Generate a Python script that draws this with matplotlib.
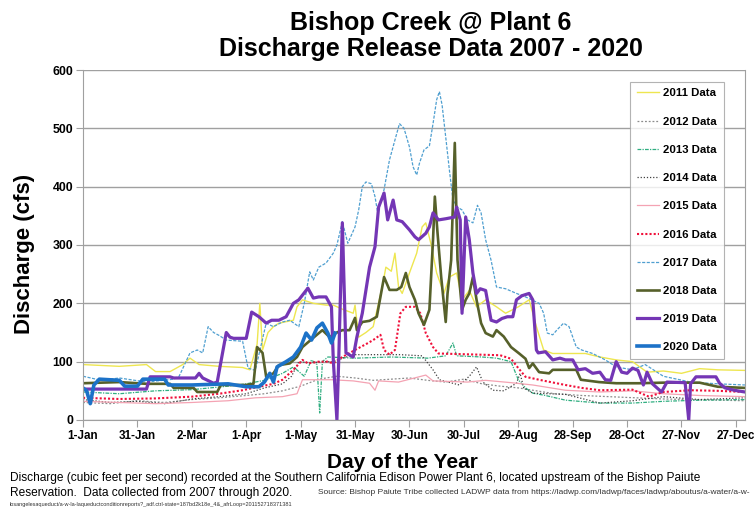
import matplotlib
matplotlib.use("Agg")
import matplotlib.pyplot as plt
import numpy as np

plt.rcParams['font.family'] = ['Liberation Sans', 'DejaVu Sans']

# x axis: day of year, ticks every 30 days
tick_days = list(range(0, 361, 30))
tick_labels = ['1-Jan', '31-Jan', '2-Mar', '1-Apr', '1-May', '31-May', '30-Jun',
               '30-Jul', '29-Aug', '28-Sep', '28-Oct', '27-Nov', '27-Dec']

# (day, cfs)
y2011 = [(0,95),(20,92),(35,95),(40,83),(48,83),(55,95),(59,106),(64,95),(75,92),(88,90),(92,86),
         (96,130),(97.5,200),(99,120),(102,150),(105,160),(108,166),(116,171),(118,194),(121,206),
         (127,200),(134,197),(138,197),(143,190),(149,183),(150,197),(152,142),(156,150),(160,160),
         (165,228),(167,262),(170,255),(172,286),(174,228),(176,217),(180,252),(184,286),(187,331),
         (189,338),(192,300),(195,252),(199,217),(202,245),(206,252),(209,206),(213,222),(217,194),
         (222,206),(228,194),(233,183),(240,194),(246,206),(250,160),(254,120),(259,114),(266,114),
         (277,114),(285,108),(294,103),(303,100),(311,82),(320,84),(330,80),(340,88),(350,86),(365,85)]
y2012 = [(0,30),(15,28),(30,33),(45,30),(60,35),(75,38),(90,42),(100,45),(110,50),(120,58),
         (130,70),(140,75),(150,72),(160,68),(170,70),(180,72),(190,68),(200,65),(210,70),(220,62),
         (230,58),(240,55),(250,50),(260,45),(275,42),(290,40),(305,38),(320,36),(335,35),(350,34),(365,33)]
y2013 = [(0,48),(20,45),(40,50),(60,52),(80,58),(90,62),(100,68),(110,80),(116,91),(122,75),
         (126,103),(129,95),(130.5,12),(132,100),(135,108),(150,106),(170,108),(190,106),(200,110),
         (204,132),(206,110),(220,108),(228,106),(236,100),(240,69),(244,55),(248,46),(255,42),
         (266,34),(285,29),(303,29),(320,32),(340,34),(365,35)]
y2014 = [(0,35),(15,30),(30,32),(45,28),(60,36),(75,40),(90,45),(100,55),(110,62),(115,75),
         (119,100),(125,98),(133,100),(138,100),(149,112),(160,112),(175,112),(187,110),(190,98),
         (193,86),(196.5,69),(207.5,60),(213,75),(217,91),(220.5,65),(226,51),(232,50),(239,63),
         (241,80),(243,55),(248,46),(266,44),(285,29),(303,33),(320,40),(340,35),(365,38)]
y2015 = [(0,32),(20,30),(40,28),(60,30),(80,33),(95,38),(110,40),(118,45),(121,69),(130,69),
         (138,69),(143,68),(149,67),(158,63),(161,51),(163,67),(174,65),(189,77),(193,67),(212,65),
         (222,68),(236,64),(248,60),(266,51),(285,48),(303,50),(320,45),(340,42),(365,40)]
y2016 = [(0,38),(20,36),(40,37),(60,40),(75,45),(88,51),(97,57),(105,62),(110,69),(116,86),
         (121,103),(124,97),(130,100),(135,100),(138,97),(143,108),(150,120),(156,130),(160,137),
         (164,146),(166,120),(169,112),(172,120),(175,183),(178,194),(183,194),(186,183),(189,149),
         (193,125),(196,114),(230,111),(236,105),(240,89),(244,74),(253,68),(266,60),(275,55),
         (285,51),(303,52),(312,40),(320,48),(335,51),(350,50),(365,48)]
y2017 = [(0,75),(10,68),(20,72),(35,65),(50,70),(53,75),(59,115),(63,120),(66,115),(69,160),
         (72,150),(75,145),(79,137),(88,135),(91,89),(95,85),(101,166),(105,160),(110,168),(114,171),
         (119,160),(122,200),(125,254),(127,240),(130,262),(134,269),(138,286),(140,300),(143,340),
         (146,303),(150,331),(152,360),(154,400),(156,408),(159,405),(161,383),(162.5,355),(166,395),
         (169,446),(172,480),(174.5,508),(177,500),(180,468),(182,434),(184,420),(185.5,440),
         (188,463),(191,470),(193,508),(195,549),(196.5,563),(198,540),(200,485),(202,429),(204,377),
         (206.5,365),(209,360),(212,343),(215,338),(217.5,368),(219.5,355),(222,309),(225,274),
         (228,228),(233,225),(239,217),(244,211),(251.5,200),(254,183),(256,149),(259,146),
         (261.5,155),(265,166),(268,160),(272,125),(275,120),(281,114),(288,103),(294,91),(303,86),
         (310,95),(320,75),(335,65),(350,62),(365,60)]
y2018 = [(0,63),(20,65),(35,62),(48,62),(50,55),(61,55),(63,48),(74,48),(76,60),(90,60),(94,62),
         (96,125),(99,115),(101,74),(105,80),(108,94),(114,97),(118,108),(121,125),(127,141),
         (132,154),(136,142),(140,150),(143,154),(147,154),(150,175),(151,154),(154,168),(158,170),
         (162,177),(166,245),(169,223),(173,223),(175.5,228),(178,252),(180,228),(183,206),(185,183),
         (188,163),(191,189),(193,309),(194,383),(195.5,320),(197.5,245),(200,168),(201,217),
         (203,274),(205,475),(206.5,274),(209,189),(211,206),(213,217),(215,245),(217,206),
         (219.5,166),(222,149),(226,143),(228,154),(232,143),(236,125),(240.5,114),(244,105),
         (246,89),(248,97),(251.5,82),(257,80),(259,86),(272,86),(274.5,69),(284.5,65),(294,63),
         (306.5,63),(320,64),(340,64),(350,57),(365,55)]
y2019 = [(0,53),(35,53),(37,74),(48,74),(50,72),(62,72),(64,80),(66,72),(72,63),(74,65),(79,150),
         (81,142),(83,140),(90,140),(93,185),(97,177),(101,166),(104,171),(108,171),(112,177),
         (116,200),(119,206),(124,226),(127,209),(130,211),(134,211),(137,194),(138,103),(140,0),
         (141,103),(143,338),(145,115),(149,108),(151,142),(154,183),(158,262),(161,297),(163,365),
         (166,389),(168,343),(171,377),(173,343),(176,340),(180,326),(183,314),(185,309),(189,320),
         (191,331),(193,355),(196,343),(200,345),(205,348),(206,365),(208,343),(209,183),(211,348),
         (213,309),(215,252),(217,217),(219,225),(222,222),(225,171),(228,168),(231,174),(234,177),
         (237,177),(239,206),(242,213),(246,217),(248,206),(250,120),(251,115),(255,117),(259,103),
         (263,106),(266,103),(270,103),(273,86),(277,88),(281,80),(285,82),(288,69),(291,68),
         (294,100),(297,82),(300,80),(303,89),(306,85),(309,60),(311,82),(314,62),(319,48),(322,65),
         (332,64),(334,0),(335,62),(338,74),(349,74),(351,63),(354,55),(359,51),(365,48)]
y2020 = [(0,55),(2,50),(4,28),(6,60),(9,70),(20,68),(23,58),(30,58),(33,70),(45,70),(47,60),
         (60,60),(80,62),(90,57),(97,57),(100,65),(103,80),(105,65),(107,91),(112,100),(116,108),
         (120,125),(123,149),(126,137),(129,158),(132,166),(135,149),(137,132),(139,149)]

series = [
    ('2011 Data', y2011, '#EEE650', '-', 1.0),
    ('2012 Data', y2012, '#8C8C8C', (0, (1.5, 1.5)), 0.9),
    ('2013 Data', y2013, '#2FAE80', (0, (3, 1, 1, 1)), 0.9),
    ('2014 Data', y2014, '#404040', (0, (1, 1.5)), 0.9),
    ('2015 Data', y2015, '#F4A3B3', '-', 0.9),
    ('2016 Data', y2016, '#F0103A', (0, (1, 1)), 1.5),
    ('2017 Data', y2017, '#4F9FD0', (0, (2.5, 1.2)), 0.9),
    ('2018 Data', y2018, '#56602A', '-', 1.9),
    ('2019 Data', y2019, '#7436B5', '-', 2.3),
    ('2020 Data', y2020, '#1C72C8', '-', 2.6),
]

fig = plt.figure(figsize=(7.56, 5.14), dpi=100)
ax = fig.add_axes([0.1098, 0.1829, 0.8756, 0.6809])

for label, pts, color, ls, lw in series:
    d, v = zip(*pts)
    ax.plot(d, v, color=color, linestyle=ls, linewidth=lw, label=label)

ax.set_xlim(0, 365)
ax.set_ylim(0, 600)
ax.set_xticks(tick_days)
ax.set_xticklabels(tick_labels, fontsize=8.4, fontweight='bold')
ax.set_yticks(range(0, 601, 100))
ax.set_yticklabels([str(t) for t in range(0, 601, 100)], fontsize=8.8, fontweight='bold')
ax.yaxis.grid(True, color='#A0A0A0', linewidth=1)
ax.set_axisbelow(True)
ax.spines['top'].set_visible(False)
for s in ['left', 'bottom', 'right']:
    ax.spines[s].set_color('#A0A0A0')
ax.tick_params(direction='out', length=5, color='#A0A0A0', pad=2)

ax.set_xlabel('Day of the Year', fontsize=15, fontweight='bold')
ax.set_ylabel('Discharge (cfs)', fontsize=16, fontweight='bold')
ax.xaxis.set_label_coords(0.482, -0.094)
ax.yaxis.set_label_coords(-0.0725, 0.474)

leg = ax.legend(loc='upper right', bbox_to_anchor=(0.977, 0.983), frameon=True,
                fancybox=False, labelspacing=1.6, handlelength=2.0, handletextpad=0.35,
                borderpad=0.6, prop={'weight': 'bold', 'size': 8.2})
leg.get_frame().set_edgecolor('#A0A0A0')
leg.get_frame().set_linewidth(0.8)

fig.text(0.570, 0.955, 'Bishop Creek @ Plant 6', ha='center', va='center',
         fontsize=18, fontweight='bold')
fig.text(0.570, 0.905, 'Discharge Release Data 2007 - 2020', ha='center', va='center',
         fontsize=18, fontweight='bold')

fig.text(0.013, 0.070, 'Discharge (cubic feet per second) recorded at the Southern California '
         'Edison Power Plant 6, located upstream of the Bishop Paiute', fontsize=8.6, va='center')
fig.text(0.013, 0.041, 'Reservation.  Data collected from 2007 through 2020.', fontsize=8.6, va='center')
fig.text(0.421, 0.041, 'Source: Bishop Paiute Tribe collected LADWP data from https://ladwp.com/ladwp/'
         'faces/ladwp/aboutus/a-water/a-w-', fontsize=6.0, va='center', color='#333333')
fig.text(0.013, 0.018, 'losangelesaqueduct/a-w-la-laqueductconditionreports?_adf.ctrl-state='
         '187bd2k18e_4&_afrLoop=201152718371381', fontsize=4.0, va='center', color='#333333')

fig.savefig('out.png', dpi=100)
